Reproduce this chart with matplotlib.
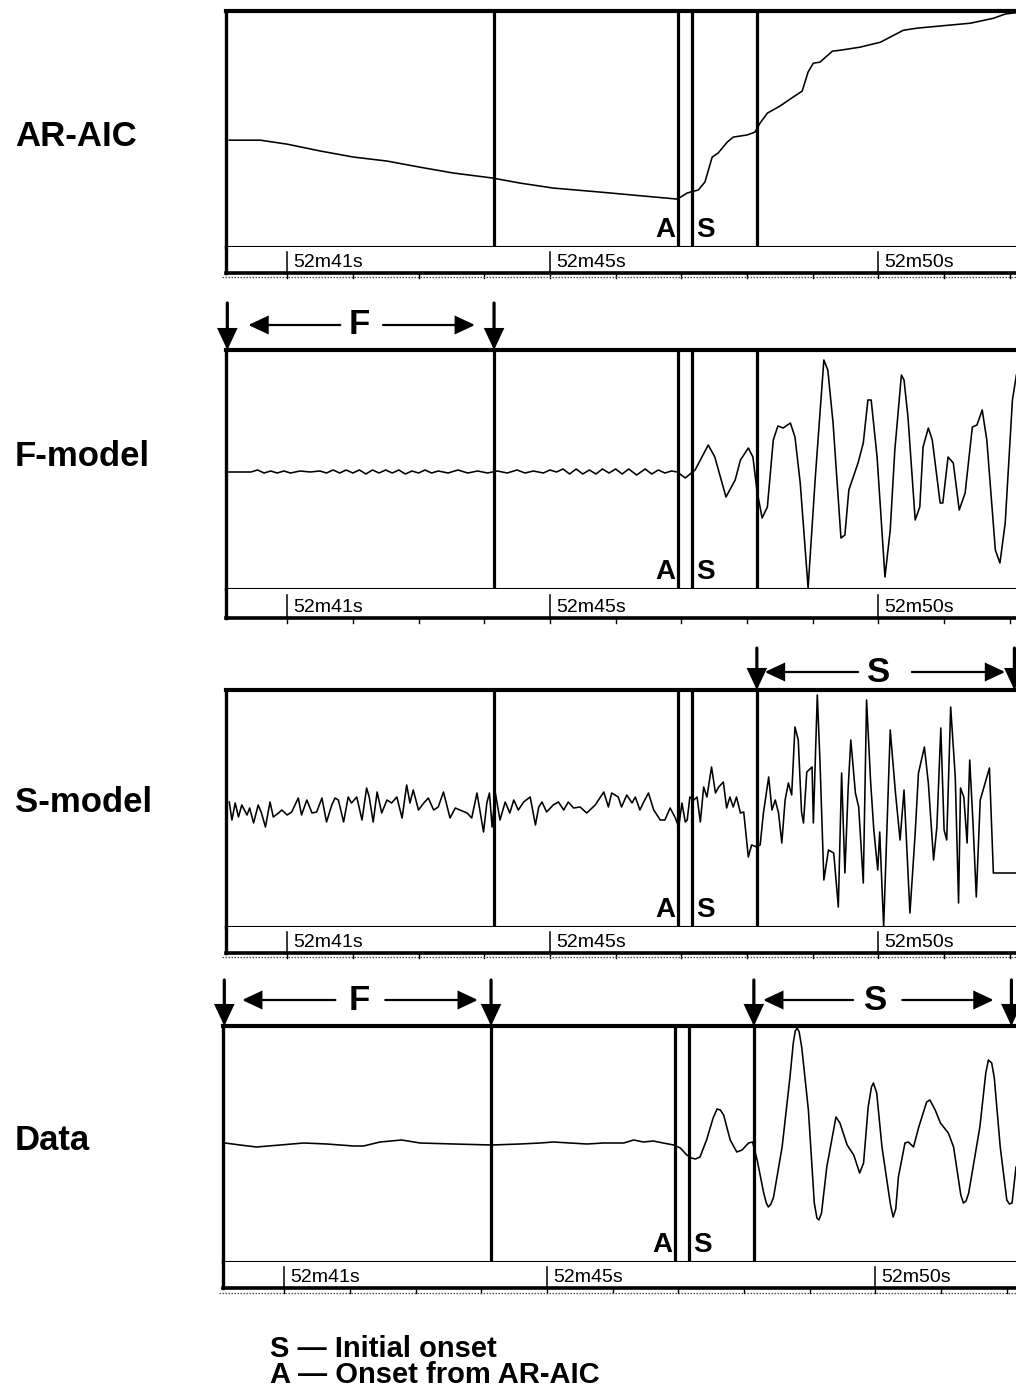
import matplotlib
matplotlib.use("Agg")
import matplotlib.pyplot as plt
from matplotlib.lines import Line2D

# ---------------------------------------------------------------------------
# Data (time in seconds after 52 min; amplitudes in relative units)
# ---------------------------------------------------------------------------
panel_names = ["AR-AIC", "F-model", "S-model", "Data"]

tick_seconds = [41, 45, 50]
tick_labels = ["52m41s", "52m45s", "52m50s"]
minor_seconds = [41, 42, 43, 44, 45, 46, 47, 48, 49, 50, 51, 52]

# picks and model windows
t_window_start = 40.09   # start of the F (noise) window
t_fit_end = 44.15        # end of the F window
t_aic = 46.95            # onset from AR-AIC
t_onset = 47.17          # initial onset
t_s_start = 48.15        # start of the S (signal) window
t_s_end = 52.07          # end of the S window

# AIC curve
aic_t = [40.12, 40.59, 41.00, 41.50, 42.01, 42.52, 43.02, 43.53, 44.12, 44.55,
         45.05, 45.76, 46.27, 46.94, 47.09, 47.26, 47.36, 47.47, 47.56, 47.70,
         47.79, 48.00, 48.12, 48.20, 48.31, 48.50, 48.70, 48.84, 48.93, 49.01,
         49.11, 49.30, 49.42, 49.72, 50.03, 50.18, 50.38, 50.59, 51.09, 51.40,
         51.75, 51.93, 52.10]
aic_v = [45.5, 45.5, 43.8, 40.9, 38.3, 36.6, 34.0, 31.5, 29.4, 27.2,
         25.1, 23.4, 22.1, 20.4, 23.0, 24.3, 27.7, 38.3, 40.0, 44.7,
         46.8, 47.7, 48.9, 52.8, 57.0, 60.0, 63.8, 66.4, 74.5, 78.3,
         78.7, 83.4, 83.8, 85.1, 87.2, 89.4, 92.3, 93.2, 94.5, 95.3,
         97.4, 99.2, 99.8]

# F-model (noise model) trace
fmodel_t = [40.10, 40.45, 40.55, 40.65, 40.75, 40.85, 40.95, 41.05, 41.20, 41.35,
            41.50, 41.60, 41.70, 41.80, 41.90, 42.00, 42.10, 42.20, 42.30, 42.40,
            42.50, 42.60, 42.70, 42.80, 42.90, 43.00, 43.10, 43.20, 43.30, 43.45,
            43.60, 43.75, 43.90, 44.05, 44.20, 44.35, 44.50, 44.62, 44.75, 44.90,
            45.00, 45.10, 45.20, 45.30, 45.40, 45.50, 45.60, 45.70, 45.80, 45.90,
            46.00, 46.10, 46.20, 46.32, 46.45, 46.55, 46.65, 46.75, 46.85, 46.94,
            47.06, 47.21, 47.41, 47.51, 47.68, 47.82, 47.90, 48.02, 48.09, 48.15,
            48.23, 48.31, 48.40, 48.47, 48.55, 48.66, 48.73, 48.81, 48.93, 49.04,
            49.17, 49.23, 49.31, 49.43, 49.49, 49.55, 49.69, 49.77, 49.84, 49.89,
            49.98, 50.10, 50.18, 50.25, 50.35, 50.39, 50.45, 50.56, 50.63, 50.68,
            50.76, 50.82, 50.94, 50.98, 51.06, 51.14, 51.23, 51.32, 51.43, 51.50,
            51.58, 51.65, 51.78, 51.85, 51.93, 52.04, 52.10]
fmodel_v = [0.00, 0.00, 0.02, -0.01, 0.01, -0.01, 0.01, -0.01, 0.01, 0.00,
            0.01, -0.01, 0.02, -0.01, 0.02, -0.01, 0.02, -0.02, 0.02, -0.01,
            0.02, -0.01, 0.02, -0.02, 0.01, -0.01, 0.02, -0.01, 0.01, -0.01,
            0.02, -0.01, 0.01, -0.01, 0.01, -0.01, 0.02, -0.01, 0.01, -0.01,
            0.02, 0.00, 0.03, -0.02, 0.03, -0.02, 0.02, -0.02, 0.03, -0.01,
            0.03, -0.02, 0.03, -0.03, 0.03, -0.02, 0.02, -0.01, 0.01, 0.00,
            -0.06, 0.02, 0.27, 0.15, -0.25, -0.08, 0.12, 0.24, 0.15, -0.18,
            -0.46, -0.35, 0.32, 0.46, 0.44, 0.49, 0.35, -0.11, -1.16, -0.05,
            1.12, 1.02, 0.49, -0.66, -0.63, -0.18, 0.09, 0.29, 0.72, 0.72,
            0.15, -1.05, -0.58, 0.22, 0.97, 0.92, 0.55, -0.48, -0.35, 0.25,
            0.44, 0.32, -0.31, -0.31, 0.15, 0.09, -0.38, -0.21, 0.45, 0.47,
            0.62, 0.32, -0.78, -0.91, -0.51, 0.72, 0.97]

# S-model (signal model) trace
smodel_t = [40.12, 40.16, 40.21, 40.26, 40.31, 40.39, 40.43, 40.49, 40.56, 40.61,
            40.67, 40.74, 40.79, 40.87, 40.92, 41.00, 41.07, 41.17, 41.22, 41.30,
            41.38, 41.45, 41.53, 41.60, 41.68, 41.73, 41.78, 41.86, 41.93, 41.98,
            42.06, 42.14, 42.21, 42.25, 42.31, 42.37, 42.44, 42.52, 42.59, 42.67,
            42.75, 42.82, 42.87, 42.92, 43.00, 43.08, 43.15, 43.23, 43.30, 43.38,
            43.48, 43.56, 43.63, 43.74, 43.81, 43.89, 43.99, 44.04, 44.08, 44.12,
            44.17, 44.24, 44.32, 44.39, 44.45, 44.52, 44.60, 44.70, 44.78, 44.83,
            44.88, 44.95, 45.05, 45.13, 45.21, 45.28, 45.36, 45.46, 45.56, 45.69,
            45.82, 45.89, 45.94, 46.04,
            46.09, 46.17, 46.25, 46.30, 46.37, 46.42, 46.50, 46.58, 46.68, 46.75,
            46.83, 46.91, 46.96, 47.01, 47.06, 47.09, 47.13, 47.19, 47.24, 47.29,
            47.34, 47.39, 47.46, 47.52, 47.57, 47.64, 47.69, 47.74, 47.79, 47.84,
            47.90, 47.95, 48.02, 48.07, 48.15, 48.20, 48.25, 48.33, 48.38, 48.43,
            48.48, 48.53, 48.58, 48.63, 48.68, 48.73, 48.78, 48.83, 48.86, 48.91,
            48.99, 49.01, 49.07, 49.11, 49.17, 49.24, 49.32, 49.39, 49.44, 49.49,
            49.54, 49.58, 49.65, 49.70, 49.77, 49.82, 49.88, 49.93, 49.99, 50.02,
            50.08, 50.18, 50.26, 50.31, 50.33, 50.39, 50.48, 50.56, 50.61, 50.70,
            50.76, 50.84, 50.89, 50.95, 51.00, 51.04, 51.10, 51.17, 51.22, 51.25,
            51.30, 51.35, 51.39, 51.44, 51.49, 51.55, 51.69, 51.75, 52.10]
smodel_v = [0.08, -0.10, 0.07, -0.07, 0.05, -0.05, 0.02, -0.13, 0.05, -0.03,
            -0.17, 0.08, -0.07, -0.03, 0.00, -0.05, -0.02, 0.12, -0.05, 0.10,
            -0.03, -0.02, 0.12, -0.12, 0.05, 0.12, 0.10, -0.12, 0.13, 0.07,
            0.13, -0.10, 0.22, 0.13, -0.12, 0.18, -0.03, 0.10, 0.07, 0.13,
            -0.08, 0.25, 0.07, 0.20, 0.00, 0.07, 0.12, 0.00, 0.03, 0.18,
            -0.08, 0.02, 0.00, -0.03, -0.08, 0.17, -0.22, 0.07, 0.17, -0.17,
            0.17, -0.10, 0.08, -0.03, 0.10, 0.00, 0.08, 0.13, -0.15, 0.03,
            0.08, -0.02, 0.05, 0.08, 0.00, 0.08, 0.02, 0.03, -0.03, 0.05,
            0.18, 0.03, 0.17, 0.13,
            0.03, 0.15, 0.07, 0.13, 0.00, 0.07, 0.17, 0.00, -0.10, -0.10,
            0.02, -0.08, -0.17, 0.07, -0.12, -0.10, 0.13, 0.10, 0.13, -0.12,
            0.23, 0.13, 0.43, 0.17, 0.23, 0.28, 0.02, 0.13, 0.03, 0.13,
            -0.03, -0.02, -0.47, -0.35, -0.37, -0.35, -0.03, 0.33, 0.00, 0.10,
            -0.03, -0.33, 0.10, 0.27, 0.15, 0.83, 0.70, -0.02, -0.13, 0.38,
            0.43, -0.13, 1.15, 0.50, -0.70, -0.40, -0.43, -0.97, 0.37, -0.63,
            0.22, 0.70, 0.17, 0.03, -0.73, 1.10, 0.30, -0.20, -0.60, -0.22,
            -1.17, 0.80, 0.17, -0.17, -0.30, 0.20, -1.03, -0.23, 0.37, 0.63,
            0.27, -0.50, -0.17, 0.82, -0.20, -0.30, 1.03, 0.33, -0.93, 0.22,
            0.13, -0.33, 0.50, -0.13, -0.87, 0.10, 0.42, -0.63, -0.63]

# observed seismogram
data_t = [40.10, 40.33, 40.58, 40.94, 41.30, 41.65, 42.06, 42.21, 42.46, 42.79,
          43.07, 43.58, 44.16, 44.59, 44.90, 45.10, 45.35, 45.61, 45.86,
          46.17, 46.32, 46.47, 46.62, 46.77, 46.93, 47.03, 47.13, 47.20, 47.26,
          47.33, 47.43, 47.53, 47.59, 47.64, 47.69, 47.79, 47.89, 47.97, 48.07,
          48.13, 48.20, 48.30, 48.34, 48.37, 48.41, 48.45, 48.58, 48.70, 48.75,
          48.78, 48.81, 48.84, 48.88, 48.98, 49.07, 49.11, 49.14, 49.18, 49.26,
          49.40, 49.46, 49.57, 49.67, 49.76, 49.82, 49.89, 49.94, 49.97, 50.02,
          50.10, 50.23, 50.27, 50.31, 50.35, 50.45, 50.50, 50.58, 50.66, 50.78,
          50.83, 50.91, 50.99, 51.11, 51.19, 51.30, 51.34, 51.38, 51.42, 51.59,
          51.68, 51.72, 51.77, 51.81, 51.90, 52.00, 52.04, 52.08, 52.14]
data_v = [0.00, -0.02, -0.04, -0.02, 0.00, -0.01, -0.03, -0.03, 0.01, 0.03,
          0.00, -0.01, -0.02, -0.01, 0.00, 0.01, 0.00, -0.01, 0.00,
          0.00, 0.03, 0.01, 0.02, 0.00, -0.02, -0.05, -0.12, -0.15, -0.16,
          -0.14, 0.03, 0.25, 0.34, 0.33, 0.28, 0.03, -0.09, -0.07, 0.00,
          0.01, -0.17, -0.50, -0.60, -0.64, -0.61, -0.54, -0.04, 0.66, 1.00,
          1.12, 1.15, 1.11, 0.95, 0.33, -0.60, -0.75, -0.77, -0.70, -0.24,
          0.26, 0.20, -0.02, -0.12, -0.30, -0.20, 0.36, 0.56, 0.60, 0.50,
          -0.04, -0.62, -0.74, -0.66, -0.34, 0.00, 0.01, -0.04, 0.16, 0.41,
          0.43, 0.33, 0.20, 0.10, -0.04, -0.52, -0.60, -0.58, -0.50, 0.16,
          0.70, 0.83, 0.80, 0.65, -0.04, -0.57, -0.61, -0.60, -0.24]

legend_lines = ["S \u2014 Initial onset", "A \u2014 Onset from AR-AIC"]

# ---------------------------------------------------------------------------
# Layout (pixels)
# ---------------------------------------------------------------------------
W, H, DPI = 1016, 1395, 100
PX_PER_S = 65.7
T_LEFT = 40.07
RIGHT = 1022

BOLD = ["Liberation Sans", "DejaVu Sans"]
NARROW = ["Liberation Sans Narrow", "Liberation Sans", "DejaVu Sans"]

layout = [
    dict(left=226, top=11, mid=247, bot=273, dots=277, label_y=136, ylim=(0, 100.5)),
    dict(left=226, top=350, mid=589, bot=618, dots=None, label_y=456, ylim=(-1.17, 1.22)),
    dict(left=226, top=690, mid=927, bot=953, dots=957, label_y=802, ylim=(-1.17, 1.20)),
    dict(left=223, top=1026, mid=1262, bot=1288, dots=1293, label_y=1141, ylim=(-1.19, 1.17)),
]
traces = [(aic_t, aic_v), (fmodel_t, fmodel_v), (smodel_t, smodel_v), (data_t, data_v)]

fig = plt.figure(figsize=(W / DPI, H / DPI), dpi=DPI)
fig.patch.set_facecolor("white")


def rect(left, top, right, bottom):
    return [left / W, 1 - bottom / H, (right - left) / W, (bottom - top) / H]


def px_to_axes_y(spec, ypx):
    """Vertical pixel position -> axes fraction of the trace area."""
    return 1 + (spec["top"] - ypx) / (spec["mid"] - spec["top"])


def arrow(ax, x0, y0, x1, y1, lw, scale):
    ax.annotate("", xy=(x1, y1), xytext=(x0, y0), xycoords=ax.get_xaxis_transform(),
                textcoords=ax.get_xaxis_transform(), annotation_clip=False,
                arrowprops=dict(arrowstyle="-|>,head_length=0.6,head_width=0.28",
                                lw=lw, color="black", mutation_scale=scale,
                                shrinkA=0, shrinkB=0, joinstyle="miter"))


def window(ax, spec, t0, t1, letter, t_letter, tips, y_top, y_mid):
    ya = px_to_axes_y(spec, y_top)
    yh = px_to_axes_y(spec, y_mid)
    for t in (t0, t1):
        arrow(ax, t, ya, t, 1.0, 2.3, 20)
    (l_end, l_tip), (r_start, r_tip) = tips
    arrow(ax, l_end, yh, l_tip, yh, 1.6, 20)
    arrow(ax, r_start, yh, r_tip, yh, 1.6, 20)
    ax.text(t_letter, yh, letter, transform=ax.get_xaxis_transform(), ha="center",
            va="center", fontsize=25, fontweight="bold", family=BOLD, clip_on=False)


axes = []
for name, spec, (tt, vv) in zip(panel_names, layout, traces):
    xlim = (T_LEFT, T_LEFT + (RIGHT - spec["left"]) / PX_PER_S)

    ax = fig.add_axes(rect(spec["left"], spec["top"], RIGHT, spec["mid"]))
    ax.set_xlim(*xlim)
    ax.set_ylim(*spec["ylim"])
    ax.set_xticks([])
    ax.set_yticks([])
    ax.spines["top"].set_linewidth(3.0)
    ax.spines["left"].set_linewidth(2.4)
    ax.spines["right"].set_linewidth(2.4)
    ax.spines["bottom"].set_linewidth(1.5)

    ax.plot(tt, vv, color="black", lw=1.15, solid_joinstyle="round")

    for t in (t_fit_end, t_aic, t_onset, t_s_start):
        ax.axvline(t, color="black", lw=2.3)

    ax.text(t_aic - 0.035, 0.042, "A", transform=ax.get_xaxis_transform(), ha="right",
            va="baseline", fontsize=20, fontweight="bold", family=BOLD)
    ax.text(t_onset + 0.055, 0.042, "S", transform=ax.get_xaxis_transform(), ha="left",
            va="baseline", fontsize=20, fontweight="bold", family=BOLD)

    # time bar
    axt = fig.add_axes(rect(spec["left"], spec["mid"], RIGHT, spec["bot"]))
    axt.set_xlim(*xlim)
    axt.set_ylim(0, 1)
    axt.set_xticks([])
    axt.set_yticks([])
    axt.spines["top"].set_visible(False)
    axt.spines["left"].set_linewidth(2.4)
    axt.spines["right"].set_linewidth(2.4)
    axt.spines["bottom"].set_linewidth(2.6)
    for t in minor_seconds:
        axt.plot([t, t], [-0.18, 0.04], color="black", lw=1.0, clip_on=False)
    for t, lab in zip(tick_seconds, tick_labels):
        axt.plot([t, t], [0.0, 0.8], color="black", lw=1.1)
        axt.text(t + 0.09, 0.22, lab, fontsize=14, family=NARROW, va="baseline", ha="left")

    if spec["dots"] is not None:
        yf = 1 - spec["dots"] / H
        fig.add_artist(Line2D([(spec["left"] - 4) / W, 1.0], [yf, yf], transform=fig.transFigure,
                              color="0.3", lw=0.9, ls=(0, (1.2, 1.2))))

    fig.text(15 / W, 1 - spec["label_y"] / H, name, ha="left", va="center",
             fontsize=25, fontweight="bold", family=BOLD)
    axes.append(ax)

# model windows above the traces
window(axes[1], layout[1], t_window_start, t_fit_end, "F", 42.10,
       ((41.81, 40.41), (42.46, 43.86)), 303, 325)
window(axes[2], layout[2], t_s_start, t_s_end, "S", 50.01,
       ((49.69, 48.27), (50.51, 51.93)), 648, 672)
window(axes[3], layout[3], t_window_start, t_fit_end, "F", 42.14,
       ((41.78, 40.36), (42.54, 43.95)), 980, 1000)
window(axes[3], layout[3], t_s_start, t_s_end, "S", 50.00,
       ((49.66, 48.29), (50.41, 51.80)), 980, 1000)

# key
for line, ybase in zip(legend_lines, (1357, 1383)):
    fig.text(270 / W, 1 - ybase / H, line, ha="left", va="baseline",
             fontsize=21, fontweight="bold", family=BOLD)

fig.savefig("out.png", dpi=DPI, facecolor="white")
